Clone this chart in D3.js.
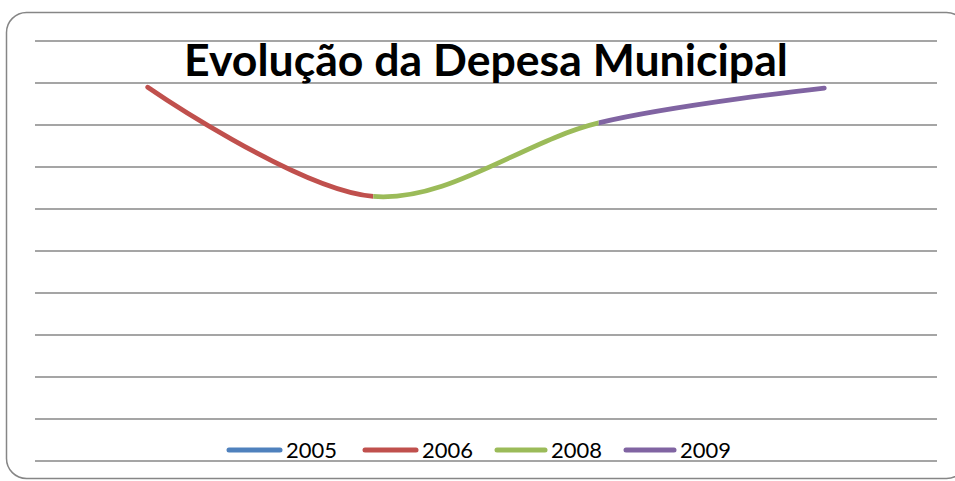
<!DOCTYPE html>
<html><head><meta charset="utf-8">
<script src="https://cdn.jsdelivr.net/npm/d3@7"></script>
<style>html,body{margin:0;padding:0;background:#fff;}svg{display:block;}</style>
</head><body>
<svg id="chart" width="955" height="481"></svg>
<script>
const categories = ["1", "2", "3", "4"];
const seriesNames = ["2005", "2006", "2008", "2009"];
const s2005 = [null, null, null, null];
const s2006 = [8.9, 6.3, null, null];
const s2008 = [null, 6.3, 8.05, null];
const s2009 = [null, null, 8.05, 8.88];
const seriesColors = ["#4F81BD", "#C0504D", "#9BBB59", "#8064A2"];
const yTicks = [0,1,2,3,4,5,6,7,8,9,10];
const titleText = "Evolução da Depesa Municipal";

const seriesValues = [s2005, s2006, s2008, s2009];
const svg = d3.select("#chart");
const W = 955, H = 481;
const plot = {left: 35, right: 937, top: 41, bottom: 461};
const FONT = "Lato, 'Open Sans', sans-serif";

// border
svg.append("rect").attr("x", 6.5).attr("y", 12.5).attr("width", 960).attr("height", 466)
  .attr("rx", 20).attr("ry", 20).attr("fill", "#fff").attr("stroke", "#868686").attr("stroke-width", 1.5);

const x = d3.scaleBand().domain(categories).range([plot.left, plot.right]).padding(0);
const y = d3.scaleLinear().domain([0, 10]).range([plot.bottom, plot.top]);
const cx = c => x(c) + x.bandwidth() / 2;

// gridlines
svg.append("g").selectAll("line").data(yTicks).join("line")
  .attr("x1", plot.left).attr("x2", plot.right)
  .attr("y1", d => y(d)).attr("y2", d => y(d))
  .attr("stroke", "#878787").attr("stroke-width", 1.6);

// combined values for smoothing continuity
const combined = categories.map((c, i) => {
  for (const s of seriesValues) if (s[i] != null) return s[i];
  return null;
});
const lineGen = d3.line().defined(d => d.v != null).x(d => cx(d.c)).y(d => y(d.v))
  .curve(d3.curveCardinal.tension(0));
const pts = categories.map((c, i) => ({c, v: combined[i]}));

const defs = svg.append("defs");
seriesValues.forEach((s, k) => {
  const idx = s.map((v, i) => v != null ? i : -1).filter(i => i >= 0);
  if (idx.length < 2) return;
  const x0 = cx(categories[idx[0]]), x1 = cx(categories[idx[idx.length - 1]]);
  const first = idx[0] === 0, last = idx[idx.length - 1] === categories.length - 1;
  defs.append("clipPath").attr("id", "clip" + k).append("rect")
    .attr("x", first ? 0 : x0).attr("y", 0)
    .attr("width", (last ? W : x1) - (first ? 0 : x0)).attr("height", H);
  svg.append("path").attr("d", lineGen(pts)).attr("fill", "none")
    .attr("stroke", seriesColors[k]).attr("stroke-width", 4.8).attr("stroke-linecap", "round")
    .attr("clip-path", `url(#clip${k})`);
});

// title
const title = svg.append("text").attr("x", (plot.left + plot.right) / 2).attr("y", 76)
  .attr("text-anchor", "middle").attr("font-family", FONT)
  .attr("font-weight", "bold").attr("font-size", 40).attr("fill", "#000").text(titleText);
const tw = title.node().getComputedTextLength();
title.attr("font-size", 40 * 604 / tw);

// legend
const legendItems = [
  {x: 227, tx: 286}, {x: 363, tx: 422}, {x: 495, tx: 551}, {x: 624, tx: 680}
];
const lg = svg.append("g");
seriesNames.forEach((n, k) => {
  const it = legendItems[k];
  lg.append("line").attr("x1", it.x + 2).attr("x2", it.tx - 6).attr("y1", 450).attr("y2", 450)
    .attr("stroke", seriesColors[k]).attr("stroke-width", 5).attr("stroke-linecap", "round");
  const t = lg.append("text").attr("x", it.tx).attr("y", 458).attr("font-family", FONT)
    .attr("font-size", 23).attr("fill", "#000").text(n);
  const w = t.node().getComputedTextLength();
  t.attr("font-size", 23 * 51 / w);
});
</script>
</body></html>
